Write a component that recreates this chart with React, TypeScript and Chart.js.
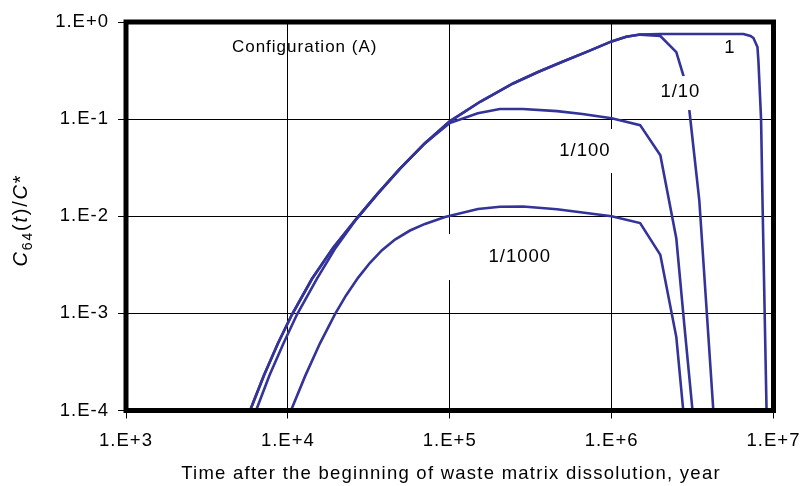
import React, { useEffect, useRef } from 'react';
import { Chart, registerables } from 'chart.js';

Chart.register(...registerables);

const FONT = '"Liberation Sans", Arial, sans-serif';

// Axis ticks
const xTickValues = [1e3, 1e4, 1e5, 1e6, 1e7];
const xTickLabels = ['1.E+3', '1.E+4', '1.E+5', '1.E+6', '1.E+7'];
const yTickValues = [1e-4, 1e-3, 1e-2, 1e-1, 1];
const yTickLabels = ['1.E-4', '1.E-3', '1.E-2', '1.E-1', '1.E+0'];

const xTitle = 'Time after the beginning of waste matrix dissolution, year';
const configLabel = 'Configuration (A)';

// Series: ratio 1
const time1 = [5.84e3, 7.12e3, 8.69e3, 1.06e4, 1.41e4, 1.9e4, 2.64e4, 3.6e4, 4.93e4, 7.03e4, 1.0e5, 1.54e5, 2.46e5, 3.51e5, 5.01e5, 7.14e5, 1.0e6, 1.23e6, 1.5e6, 2.0e6, 4.0e6, 6.52e6, 7.21e6, 7.52e6, 7.96e6, 8.07e6, 8.38e6, 8.55e6, 9.06e6];
const conc1 = [1e-4, 2.31e-4, 4.92e-4, 9.73e-4, 2.27e-3, 4.72e-3, 9.35e-3, 0.0172, 0.031, 0.0565, 0.095, 0.151, 0.233, 0.306, 0.392, 0.498, 0.631, 0.706, 0.742, 0.752, 0.752, 0.752, 0.717, 0.684, 0.552, 0.396, 0.1, 0.0146, 1e-4];

// Series: ratio 1/10
const time10 = [5.84e3, 7.12e3, 8.69e3, 1.06e4, 1.41e4, 1.9e4, 2.64e4, 3.6e4, 4.93e4, 7.03e4, 1.0e5, 1.54e5, 2.46e5, 3.51e5, 5.01e5, 7.14e5, 1.0e6, 1.23e6, 1.5e6, 2.0e6, 2.51e6, 2.77e6, 3.02e6, 3.48e6, 4.25e6];
const conc10 = [1e-4, 2.31e-4, 4.92e-4, 9.73e-4, 2.27e-3, 4.72e-3, 9.35e-3, 0.0172, 0.031, 0.0565, 0.095, 0.151, 0.233, 0.306, 0.392, 0.498, 0.631, 0.706, 0.742, 0.717, 0.49, 0.284, 0.124, 0.0146, 1e-4];

// Series: ratio 1/100
const time100 = [6.36e3, 7.7e3, 9.4e3, 1.138e4, 1.51e4, 1.97e4, 2.65e4, 3.6e4, 4.93e4, 7.03e4, 1.0e5, 1.49e5, 2.04e5, 2.83e5, 4.6e5, 6.6e5, 1.0e6, 1.5e6, 2.0e6, 2.51e6, 2.81e6, 3.16e6];
const conc100 = [1e-4, 2.31e-4, 4.92e-4, 9.73e-4, 2.27e-3, 4.72e-3, 9.35e-3, 0.0172, 0.031, 0.0565, 0.091, 0.115, 0.127, 0.127, 0.121, 0.113, 0.102, 0.0867, 0.0425, 0.0059, 7.7e-4, 1e-4];

// Series: ratio 1/1000
const time1000 = [1.045e4, 1.276e4, 1.579e4, 1.955e4, 2.287e4, 2.712e4, 3.216e4, 3.815e4, 4.59e4, 5.68e4, 7.03e4, 9.35e4, 1.494e5, 2.044e5, 2.835e5, 4.6e5, 1.0e6, 1.5e6, 2.0e6, 2.51e6, 2.77e6];
const conc1000 = [1e-4, 2.245e-4, 4.92e-4, 9.84e-4, 1.53e-3, 2.32e-3, 3.32e-3, 4.47e-3, 5.76e-3, 7.13e-3, 8.34e-3, 9.8e-3, 0.0119, 0.01254, 0.0126, 0.0118, 0.01, 0.0085, 0.004, 5.7e-4, 1e-4];

// Curve labels, anchored in data units
const curveLabels = ['1', '1/10', '1/100', '1/1000'];
const curveLabelX = [5.38e6, 2.66e6, 6.84e5, 2.71e5];
const curveLabelY = [0.54, 0.19, 0.047, 3.8e-3];
const configX = 1.27e4;
const configY = 0.553;

const LINE = '#333399';

function pts(t: number[], c: number[]) {
  return t.map((x, i) => ({ x, y: c[i] }));
}

const decorPlugin = {
  id: 'decor',
  beforeDraw(chart: any) {
    chart.ctx.letterSpacing = '1px';
  },
  afterDatasetsDraw(chart: any) {
    const ctx = chart.ctx as CanvasRenderingContext2D;
    const xs = chart.scales.x;
    const ys = chart.scales.y;
    const ca = chart.chartArea;
    ctx.save();
    ctx.letterSpacing = '1px';
    // white boxes behind some curve labels
    const boxes: Record<string, [number, number, number, number]> = {
      '1/10': [-26, 26, -16, 18],
      '1/100': [-37, 37, -22, 22],
      '1/1000': [-75, 75, -23, 23],
    };
    curveLabels.forEach((lab, i) => {
      const cx = xs.getPixelForValue(curveLabelX[i]);
      const cy = ys.getPixelForValue(curveLabelY[i]);
      const b = boxes[lab];
      if (b) {
        ctx.fillStyle = '#ffffff';
        ctx.fillRect(cx + b[0], cy + b[2], b[1] - b[0], b[3] - b[2]);
      }
      ctx.fillStyle = '#000';
      ctx.font = `18.5px ${FONT}`;
      ctx.textAlign = 'center';
      ctx.textBaseline = 'middle';
      ctx.fillText(lab, cx, cy);
    });
    // configuration label
    ctx.font = `17px ${FONT}`;
    ctx.fillStyle = '#000';
    ctx.textAlign = 'center';
    ctx.textBaseline = 'middle';
    ctx.fillText(configLabel, xs.getPixelForValue(configX), ys.getPixelForValue(configY));

    // frame
    ctx.strokeStyle = '#000';
    ctx.lineWidth = 5;
    ctx.strokeRect(ca.left, ca.top, ca.right - ca.left, ca.bottom - ca.top);

    // x title
    ctx.letterSpacing = '1.25px';
    ctx.font = `18.5px ${FONT}`;
    ctx.textAlign = 'center';
    ctx.textBaseline = 'alphabetic';
    ctx.fillText(xTitle, 451, 479);

    // y title with subscript
    ctx.letterSpacing = '1.8px';
    const parts = [
      { t: 'C', f: `italic 20px ${FONT}`, dy: 0 },
      { t: '64', f: `14px ${FONT}`, dy: 5 },
      { t: '(', f: `20px ${FONT}`, dy: 0 },
      { t: 't', f: `italic 20px ${FONT}`, dy: 0 },
      { t: ')/', f: `20px ${FONT}`, dy: 0 },
      { t: 'C', f: `italic 20px ${FONT}`, dy: 0 },
      { t: '*', f: `20px ${FONT}`, dy: 0 },
    ];
    let total = 0;
    const widths = parts.map((p) => {
      ctx.font = p.f;
      const w = ctx.measureText(p.t).width;
      total += w;
      return w;
    });
    ctx.translate(20, 220);
    ctx.rotate(-Math.PI / 2);
    ctx.textAlign = 'left';
    ctx.textBaseline = 'alphabetic';
    let x = -total / 2;
    parts.forEach((p, i) => {
      ctx.font = p.f;
      ctx.fillText(p.t, x, 7 + p.dy);
      x += widths[i];
    });
    ctx.restore();
  },
};

export default function App() {
  const ref = useRef<HTMLCanvasElement | null>(null);
  useEffect(() => {
    document.body.style.margin = '0';
    const canvas = ref.current!;
    const mk = (t: number[], c: number[], label: string) => ({
      label,
      data: pts(t, c),
      showLine: true,
      borderColor: LINE,
      backgroundColor: LINE,
      borderWidth: 2.6,
      pointRadius: 0,
      tension: 0,
      fill: false,
    });
    const chart = new Chart(canvas, {
      type: 'scatter',
      data: {
        datasets: [
          mk(time1, conc1, curveLabels[0]),
          mk(time10, conc10, curveLabels[1]),
          mk(time100, conc100, curveLabels[2]),
          mk(time1000, conc1000, curveLabels[3]),
        ],
      },
      options: {
        responsive: false,
        animation: false,
        devicePixelRatio: 1,
        layout: { padding: { top: 22, right: 31.5, left: 0, bottom: 0 } },
        plugins: { legend: { display: false }, tooltip: { enabled: false }, title: { display: false } },
        scales: {
          x: {
            type: 'logarithmic',
            min: 1e3,
            max: 1e7,
            position: 'bottom',
            afterBuildTicks: (s: any) => {
              s.ticks = xTickValues.map((v) => ({ value: v }));
            },
            afterFit: (s: any) => {
              s.height = 486 - 410.5;
              s.paddingLeft = 0;
              s.paddingRight = 0;
            },
            ticks: {
              autoSkip: false,
              maxRotation: 0,
              color: '#000',
              padding: 11,
              font: { family: FONT, size: 18.5 },
              callback: (_v: any, i: number) => xTickLabels[i],
            },
            grid: { color: '#000', lineWidth: 1, drawTicks: true, tickLength: 8, tickColor: '#000' },
            border: { display: false },
          },
          y: {
            type: 'logarithmic',
            min: 1e-4,
            max: 1,
            afterBuildTicks: (s: any) => {
              s.ticks = yTickValues.map((v) => ({ value: v }));
            },
            afterFit: (s: any) => {
              s.width = 126;
              s.paddingTop = 0;
              s.paddingBottom = 0;
            },
            ticks: {
              autoSkip: false,
              color: '#000',
              padding: 9,
              font: { family: FONT, size: 18.5 },
              callback: (_v: any, i: number) => yTickLabels[i],
            },
            grid: { color: '#000', lineWidth: 1, drawTicks: true, tickLength: 8, tickColor: '#000' },
            border: { display: false },
          },
        },
      },
      plugins: [decorPlugin],
    } as any);
    return () => chart.destroy();
  }, []);
  return <canvas ref={ref} width={805} height={486} style={{ display: 'block' }} />;
}
